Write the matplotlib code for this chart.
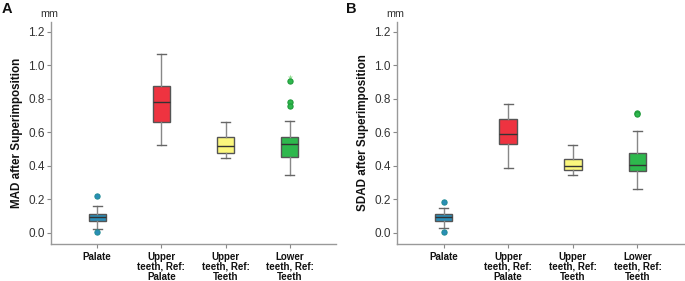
import matplotlib.pyplot as plt

plt.rcParams["font.family"] = ["Liberation Sans", "DejaVu Sans"]

categories = ["Palate", "Upper\nteeth, Ref:\nPalate", "Upper\nteeth, Ref:\nTeeth", "Lower\nteeth, Ref:\nTeeth"]
colors = ["#2b8db8", "#ee3340", "#fbf77d", "#2eb84d"]
flier_colors = ["#1f8c96", "#c02030", "#d8d050", "#1f9a3a"]

# panel A: MAD (whisker low, Q1, median, Q3, whisker high)
mad_whislo = [0.02, 0.522, 0.444, 0.346]
mad_q1 = [0.072, 0.663, 0.474, 0.454]
mad_med = [0.096, 0.778, 0.517, 0.529]
mad_q3 = [0.115, 0.878, 0.570, 0.572]
mad_whishi = [0.159, 1.065, 0.663, 0.670]
mad_fliers = [[0.219, 0.006], [], [], [0.906, 0.782, 0.758]]
mad_extreme = [[], [], [], [0.928]]

# panel B: SDAD
sdad_whislo = [0.028, 0.385, 0.345, 0.263]
sdad_q1 = [0.072, 0.528, 0.375, 0.368]
sdad_med = [0.092, 0.588, 0.401, 0.403]
sdad_q3 = [0.110, 0.680, 0.439, 0.474]
sdad_whishi = [0.146, 0.769, 0.526, 0.607]
sdad_fliers = [[0.185, 0.004], [], [], [0.714, 0.706]]
sdad_extreme = [[], [], [], []]

yticks = [0.0, 0.2, 0.4, 0.6, 0.8, 1.0, 1.2]

fig = plt.figure(figsize=(6.85, 2.81), dpi=100)
axA = fig.add_axes([51 / 685, 37 / 281, 285 / 685, 222 / 281])
axB = fig.add_axes([397 / 685, 37 / 281, 287 / 685, 222 / 281])


def draw(ax, whislo, q1, med, q3, whishi, fliers, extreme, ylabel):
    stats = []
    for i in range(len(categories)):
        stats.append(dict(whislo=whislo[i], q1=q1[i], med=med[i], q3=q3[i],
                          whishi=whishi[i], fliers=[]))
    bp = ax.bxp(
        stats,
        positions=range(len(categories)),
        widths=0.27,
        patch_artist=True,
        showfliers=False,
        boxprops=dict(edgecolor="#555555", linewidth=1.0),
        medianprops=dict(color="#333333", linewidth=1.0),
        whiskerprops=dict(color="#888888", linewidth=1.0),
        capprops=dict(color="#666666", linewidth=1.0),
        capwidths=0.14,
    )
    for patch, c in zip(bp["boxes"], colors):
        patch.set_facecolor(c)

    for i, vals in enumerate(fliers):
        if vals:
            ax.scatter([i] * len(vals), vals, s=14, color=colors[i],
                       edgecolors=flier_colors[i], linewidths=0.8, zorder=4)
    for i, vals in enumerate(extreme):
        if vals:
            ax.scatter([i] * len(vals), vals, s=16, marker="*",
                       color="#8fdc8f", linewidths=0, zorder=3)

    ax.set_xlim(-0.72, 3.72)
    ax.set_ylim(-0.067, 1.258)
    ax.set_yticks(yticks)
    ax.set_yticklabels([f"{t:.1f}" for t in yticks])
    ax.set_xticks(range(len(categories)))
    ax.set_xticklabels(categories, fontsize=7, fontweight="bold", linespacing=1.0)
    ax.tick_params(axis="y", labelsize=8.5, colors="#888888", labelcolor="#333333",
                   length=3, width=0.8, pad=1.5)
    ax.tick_params(axis="x", colors="#888888", labelcolor="#111111",
                   length=3, width=0.8, pad=2.5)
    for side in ["top", "right"]:
        ax.spines[side].set_visible(False)
    for side in ["left", "bottom"]:
        ax.spines[side].set_color("#999999")
        ax.spines[side].set_linewidth(1.0)

    ax.set_ylabel(ylabel, fontsize=8.4, fontweight="bold", color="#111111", labelpad=4)
    ax.text(-0.005, 1.034, "mm", transform=ax.transAxes, fontsize=7.8, color="#333333",
            ha="center", va="center")


draw(axA, mad_whislo, mad_q1, mad_med, mad_q3, mad_whishi, mad_fliers, mad_extreme,
     "MAD after Superimposition")
draw(axB, sdad_whislo, sdad_q1, sdad_med, sdad_q3, sdad_whishi, sdad_fliers, sdad_extreme,
     "SDAD after Superimposition")

fig.text(2 / 685, 1 - 2 / 281, "A", fontsize=10.5, fontweight="bold", color="#111111",
         ha="left", va="top")
fig.text(346 / 685, 1 - 2 / 281, "B", fontsize=10.5, fontweight="bold", color="#111111",
         ha="left", va="top")

fig.savefig("out.png", dpi=100)
